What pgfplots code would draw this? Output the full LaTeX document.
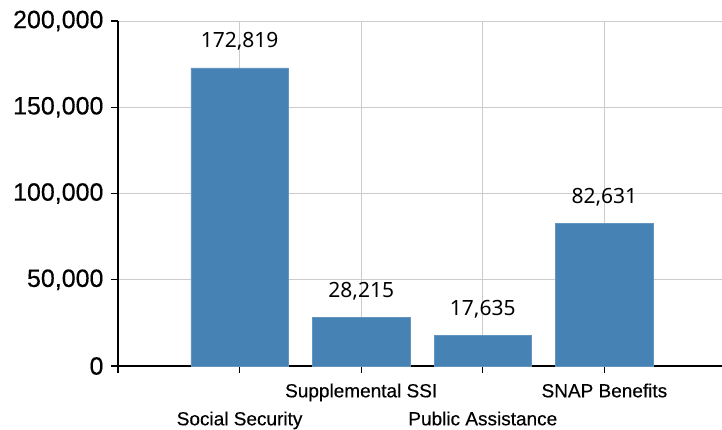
\documentclass[border=0pt]{standalone}
\usepackage{fontspec}
\setmainfont{Liberation Sans}
\newfontfamily\notofont{Noto Sans}
\newfontfamily\tickfont[FakeBold=0.4]{Liberation Sans}
\usepackage{pgfplots}
\pgfplotsset{compat=1.18}
\definecolor{barblue}{RGB}{70,130,180}
\definecolor{gridgray}{RGB}{204,204,204}

\begin{document}
\begin{tikzpicture}
\begin{axis}[
    scale only axis,
    width=604pt, height=345pt,
    at={(0,0)}, anchor=south west,
    xmin=0, xmax=4.967,
    ymin=0, ymax=200000,
    axis x line=bottom, axis y line=left,
    axis line style={black, line width=1.3pt, -},
    xtick={0,2,4},
    xticklabels={,Supplemental SSI,SNAP Benefits},
    extra x ticks={1,3},
    extra x tick labels={Social Security,Public Assistance},
    extra x tick style={
        tick label style={yshift=-28pt},
        grid=major,
    },
    ytick={0,50000,100000,150000,200000},
    scaled y ticks=false,
    tick align=outside,
    major tick length=7pt,
    tick style={black, line width=1.1pt},
    xmajorgrids=true, ymajorgrids=true,
    grid style={gridgray, line width=1pt},
    xticklabel style={font=\tickfont\fontsize{19}{19}\selectfont, yshift=-7pt},
    yticklabel style={font=\tickfont\fontsize{25}{25}\selectfont, xshift=-4pt,
        /pgf/number format/.cd, fixed, 1000 sep={,}, assume math mode=true},
    ybar, bar width=0.8,
    nodes near coords={\pgfmathprintnumber[fixed, precision=0, 1000 sep={,}, assume math mode=true]{\pgfplotspointmeta}},
    every node near coord/.append style={font=\notofont\fontsize{21}{21}\selectfont,
        anchor=base, yshift=20pt, black},
    clip=false,
]
\addplot[fill=barblue, draw=barblue!85!white, line width=0.6pt] coordinates {
    (1,172819) (2,28215) (3,17635) (4,82631)
};
\end{axis}
\pgfresetboundingbox
\path (-118pt,-63pt) rectangle (604pt,366pt);
\end{tikzpicture}
\end{document}
